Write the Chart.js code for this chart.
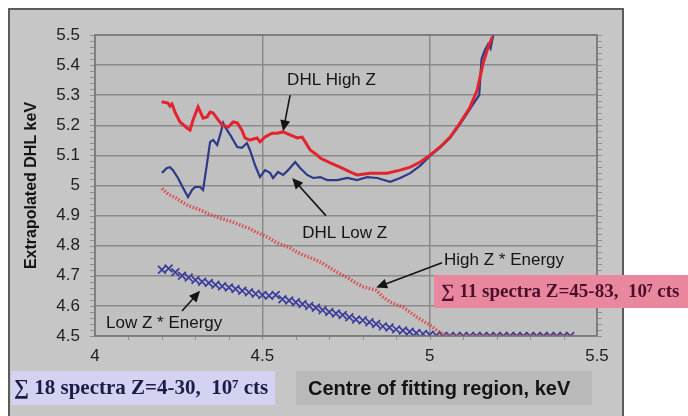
<!DOCTYPE html>
<html>
<head>
<meta charset="utf-8">
<script src="https://cdn.jsdelivr.net/npm/chart.js@4/dist/chart.umd.min.js"></script>
<style>
  html, body { margin: 0; padding: 0; background: #fff; }
  #wrap { width: 688px; height: 416px; }
</style>
</head>
<body>
<div id="wrap"><canvas id="dhlChart" width="688" height="416"></canvas></div>
<script>
// DHL High Z (red line)
const highZX = [4.199, 4.218, 4.224, 4.230, 4.239, 4.254, 4.275, 4.284, 4.293, 4.308, 4.323, 4.335, 4.344, 4.353,
  4.368, 4.380, 4.398, 4.413, 4.425, 4.439, 4.448, 4.463, 4.484, 4.493, 4.508, 4.529, 4.544, 4.562, 4.583, 4.604,
  4.619, 4.628, 4.643, 4.664, 4.673, 4.703, 4.732, 4.762, 4.783, 4.822, 4.873, 4.912, 4.942, 4.972, 5.001, 5.031,
  5.061, 5.091, 5.121, 5.142, 5.160, 5.175, 5.187];
const highZY = [5.278, 5.274, 5.264, 5.271, 5.244, 5.211, 5.191, 5.184, 5.218, 5.261, 5.224, 5.228, 5.244, 5.241,
  5.218, 5.201, 5.194, 5.211, 5.208, 5.184, 5.158, 5.151, 5.158, 5.145, 5.161, 5.174, 5.174, 5.178, 5.168, 5.158,
  5.161, 5.145, 5.118, 5.101, 5.091, 5.075, 5.061, 5.045, 5.035, 5.041, 5.041, 5.051, 5.061, 5.078, 5.101, 5.128,
  5.161, 5.208, 5.261, 5.317, 5.407, 5.460, 5.493];

// DHL Low Z (blue line)
const lowZX = [4.200, 4.215, 4.224, 4.233, 4.248, 4.263, 4.278, 4.290, 4.299, 4.314, 4.323, 4.335, 4.344, 4.353,
  4.365, 4.374, 4.383, 4.389, 4.404, 4.425, 4.439, 4.454, 4.463, 4.478, 4.493, 4.508, 4.523, 4.532, 4.547, 4.562,
  4.577, 4.598, 4.613, 4.634, 4.652, 4.673, 4.694, 4.724, 4.754, 4.783, 4.813, 4.843, 4.882, 4.912, 4.942, 4.972,
  5.001, 5.031, 5.061, 5.091, 5.130, 5.148, 5.155, 5.165, 5.175, 5.182, 5.190];
const lowZY = [5.042, 5.058, 5.061, 5.051, 5.025, 4.992, 4.962, 4.985, 4.995, 4.995, 4.985, 5.075, 5.145, 5.151,
  5.135, 5.168, 5.208, 5.194, 5.168, 5.128, 5.125, 5.141, 5.118, 5.068, 5.028, 5.051, 5.042, 5.025, 5.045, 5.035,
  5.051, 5.078, 5.058, 5.035, 5.025, 5.028, 5.018, 5.018, 5.025, 5.018, 5.028, 5.025, 5.012, 5.025, 5.041, 5.066,
  5.098, 5.126, 5.158, 5.204, 5.270, 5.300, 5.420, 5.450, 5.470, 5.455, 5.500];

// Z * Energy series share one set of centres
const energyX = [4.20, 4.22, 4.24, 4.26, 4.28, 4.30, 4.32, 4.34, 4.36, 4.38, 4.40, 4.42, 4.44, 4.46, 4.48, 4.50,
  4.52, 4.54, 4.56, 4.58, 4.60, 4.62, 4.64, 4.66, 4.68, 4.70, 4.72, 4.74, 4.76, 4.78, 4.80, 4.82, 4.84, 4.86, 4.88,
  4.90, 4.92, 4.94, 4.96, 4.98, 5.00, 5.02, 5.04, 5.06, 5.08, 5.10, 5.12, 5.14, 5.16, 5.18, 5.20, 5.22, 5.24, 5.26,
  5.28, 5.30, 5.32, 5.34, 5.36, 5.38, 5.40, 5.42];
const highEnergyY = [4.990, 4.970, 4.960, 4.945, 4.932, 4.925, 4.916, 4.905, 4.897, 4.890, 4.882, 4.875, 4.866,
  4.858, 4.846, 4.836, 4.826, 4.812, 4.802, 4.795, 4.781, 4.770, 4.762, 4.752, 4.742, 4.728, 4.714, 4.702, 4.690,
  4.676, 4.664, 4.658, 4.652, 4.630, 4.614, 4.604, 4.596, 4.580, 4.564, 4.550, 4.537, 4.520, 4.506, 4.500, 4.501,
  4.500, 4.499, 4.500, 4.501, 4.500, 4.500, 4.499, 4.500, 4.501, 4.500, 4.500, 4.499, 4.500, 4.501, 4.500, 4.500, 4.500];
const lowEnergyY = [4.720, 4.724, 4.712, 4.700, 4.694, 4.686, 4.680, 4.676, 4.670, 4.665, 4.661, 4.656, 4.650,
  4.645, 4.640, 4.636, 4.634, 4.636, 4.622, 4.618, 4.612, 4.606, 4.600, 4.594, 4.586, 4.580, 4.575, 4.570, 4.562,
  4.555, 4.552, 4.546, 4.540, 4.532, 4.528, 4.522, 4.518, 4.514, 4.510, 4.507, 4.504, 4.502, 4.500, 4.500, 4.500,
  4.500, 4.500, 4.500, 4.500, 4.500, 4.500, 4.500, 4.500, 4.500, 4.500, 4.500, 4.500, 4.500, 4.500, 4.500, 4.500, 4.500];

const xTicks = [4, 4.5, 5, 5.5];
const xTickLabels = ['4', '4.5', '5', '5.5'];
const yTicks = [4.5, 4.6, 4.7, 4.8, 4.9, 5, 5.1, 5.2, 5.3, 5.4, 5.5];
const yTickLabels = ['4.5', '4.6', '4.7', '4.8', '4.9', '5', '5.1', '5.2', '5.3', '5.4', '5.5'];

// callouts in data units: text, text anchor, arrow tail, arrow head
const callouts = [
  { text: 'DHL High Z', at: [4.574, 5.35], from: [4.583, 5.30], to: [4.562, 5.180] },
  { text: 'DHL Low Z', at: [4.619, 4.842], from: [4.690, 4.900], to: [4.589, 5.025] },
  { text: 'High Z * Energy', at: [5.043, 4.752], from: [5.037, 4.743], to: [4.840, 4.661] },
  { text: 'Low Z * Energy', at: [4.033, 4.543], from: [4.260, 4.583], to: [4.314, 4.650] },
];

const pts = (xs, ys) => xs.map((x, i) => ({ x: x, y: ys[i] }));
const SANS = "'Liberation Sans', Arial, sans-serif";
const SERIF = "'Liberation Serif', 'Times New Roman', serif";

const frame = {
  id: 'frame',
  beforeDraw(chart) {
    const c = chart.ctx, a = chart.chartArea;
    c.save();
    c.fillStyle = '#c6c6c6';
    c.fillRect(9, 9, 614, 420);
    c.strokeStyle = '#5c5c5c';
    c.lineWidth = 2;
    c.strokeRect(9, 9, 614, 420);
    c.fillStyle = '#c0c0c0';
    c.fillRect(a.left, a.top, a.right - a.left, a.bottom - a.top);
    c.restore();
  },
  afterDraw(chart) {
    const c = chart.ctx, a = chart.chartArea;
    const xs = chart.scales.x, ys = chart.scales.y;
    c.save();
    // plot border
    c.strokeStyle = '#777';
    c.lineWidth = 1.5;
    c.strokeRect(a.left, a.top, a.right - a.left, a.bottom - a.top);
    // comb of minor ticks on both vertical edges
    c.strokeStyle = 'rgba(120,120,120,0.7)';
    c.lineWidth = 1;
    for (let v = 0; v <= 50; v++) {
      const y = Math.round(ys.getPixelForValue(4.5 + v * 0.02)) + 0.5;
      c.beginPath();
      c.moveTo(a.left - 5, y); c.lineTo(a.left, y);
      c.moveTo(a.right, y); c.lineTo(a.right + 5, y);
      c.stroke();
    }
    for (let v = 1; v < 15; v++) {
      const x = Math.round(xs.getPixelForValue(4 + v * 0.1)) + 0.5;
      c.beginPath();
      c.moveTo(x, a.bottom); c.lineTo(x, a.bottom + 4);
      c.stroke();
    }
    // callouts
    c.font = '17px ' + SANS;
    c.fillStyle = '#151515';
    c.textBaseline = 'middle';
    c.textAlign = 'left';
    callouts.forEach((k) => {
      c.fillText(k.text, xs.getPixelForValue(k.at[0]), ys.getPixelForValue(k.at[1]));
      const x0 = xs.getPixelForValue(k.from[0]), y0 = ys.getPixelForValue(k.from[1]);
      const x1 = xs.getPixelForValue(k.to[0]), y1 = ys.getPixelForValue(k.to[1]);
      const ang = Math.atan2(y1 - y0, x1 - x0);
      c.strokeStyle = '#151515';
      c.lineWidth = 1.6;
      c.beginPath();
      c.moveTo(x0, y0);
      c.lineTo(x1 - 8 * Math.cos(ang), y1 - 8 * Math.sin(ang));
      c.stroke();
      c.beginPath();
      c.moveTo(x1, y1);
      c.lineTo(x1 - 11 * Math.cos(ang) + 5 * Math.sin(ang), y1 - 11 * Math.sin(ang) - 5 * Math.cos(ang));
      c.lineTo(x1 - 11 * Math.cos(ang) - 5 * Math.sin(ang), y1 - 11 * Math.sin(ang) + 5 * Math.cos(ang));
      c.closePath();
      c.fillStyle = '#151515';
      c.fill();
    });
    // label boxes
    c.fillStyle = '#d3d3f1';
    c.fillRect(11, 371, 264, 34);
    c.fillStyle = '#b9b9b9';
    c.fillRect(296, 371, 296, 34);
    c.fillStyle = '#e9879f';
    c.fillRect(434, 275, 254, 33);
    c.font = 'bold 21px ' + SERIF;
    c.fillStyle = '#1c1c48';
    c.fillText('\u2211 18 spectra Z=4-30,  10\u2077 cts', 14, 389);
    c.font = 'bold 19px ' + SERIF;
    c.fillStyle = '#4c0f2a';
    c.fillText('\u2211 11 spectra Z=45-83,  10\u2077 cts', 441, 292);
    c.font = 'bold 20px ' + SANS;
    c.fillStyle = '#141414';
    c.fillText('Centre of fitting region, keV', 308, 389);
    c.restore();
  },
};

const ctx = document.getElementById('dhlChart').getContext('2d');
const chart = new Chart(ctx, {
  type: 'scatter',
  data: {
    datasets: [
      {
        label: 'High Z * Energy',
        data: pts(energyX, highEnergyY),
        showLine: true,
        borderColor: 'rgba(222,60,60,0.85)',
        borderWidth: 3.5,
        borderDash: [1.5, 1.8],
        pointRadius: 0,
      },
      {
        label: 'DHL High Z',
        data: pts(highZX, highZY),
        showLine: true,
        borderColor: '#e3232d',
        borderWidth: 3,
        pointRadius: 0,
      },
      {
        label: 'DHL Low Z',
        data: pts(lowZX, lowZY),
        showLine: true,
        borderColor: '#2d3a88',
        borderWidth: 2.2,
        pointRadius: 0,
      },
      {
        label: 'Low Z * Energy',
        data: pts(energyX, lowEnergyY),
        pointStyle: 'crossRot',
        pointRadius: 5.5,
        borderColor: '#3a3c9c',
        borderWidth: 1.7,
      },
    ],
  },
  options: {
    responsive: false,
    animation: false,
    layout: { padding: { left: 22, right: 91, top: 35, bottom: 50 } },
    plugins: { legend: { display: false }, tooltip: { enabled: false } },
    scales: {
      x: {
        type: 'linear',
        min: 4,
        max: 5.5,
        afterBuildTicks: (s) => { s.ticks = xTicks.map((v) => ({ value: v })); },
        afterFit: (s) => { s.height = 30; },
        ticks: {
          callback: (v) => xTickLabels[xTicks.indexOf(v)],
          color: '#222',
          font: { family: SANS, size: 17 },
          padding: 10,
        },
        grid: { color: '#8a8a8a', lineWidth: 1.5, drawTicks: false },
        border: { display: false },
      },
      y: {
        type: 'linear',
        min: 4.5,
        max: 5.5,
        afterBuildTicks: (s) => { s.ticks = yTicks.map((v) => ({ value: v })); },
        afterFit: (s) => { s.width = 73; },
        ticks: {
          callback: (v) => yTickLabels[yTicks.indexOf(v)],
          color: '#222',
          font: { family: SANS, size: 17 },
          padding: 15,
        },
        title: {
          display: true,
          text: 'Extrapolated DHL keV',
          color: '#151515',
          font: { family: SANS, size: 16, weight: 'bold' },
          padding: 0,
        },
        grid: { color: '#8a8a8a', lineWidth: 1.5, drawTicks: false },
        border: { display: false },
      },
    },
  },
  plugins: [frame],
});
</script>
</body>
</html>
